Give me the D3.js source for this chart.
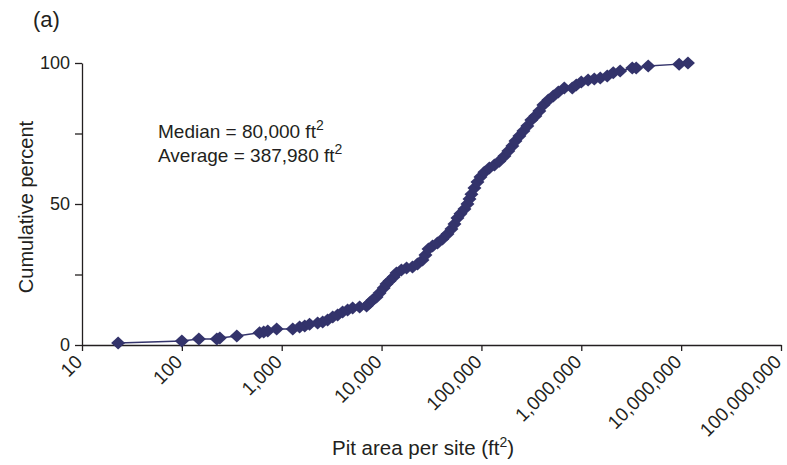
<!DOCTYPE html>
<html>
<head>
<meta charset="utf-8">
<script src="https://cdn.jsdelivr.net/npm/d3@7"></script>
<style>
  body { margin: 0; background: #fff; }
  text { font-family: Arial, "Liberation Sans", sans-serif; fill: #231f20; }
</style>
</head>
<body>
<div id="chart"></div>
<script>
// pit area per site (ft2) and cumulative percent
var areas = [23, 100, 148, 224, 240, 355, 600, 660, 725, 890,
	1290, 1510, 1700, 1900, 2290, 2570, 2880, 3240, 3630, 4070,
	4570, 5130, 6030, 7080, 7590, 8130, 8910, 9550, 10500, 11200,
	12000, 13200, 14100, 15800, 17800, 20400, 22900, 25700, 27500, 29500,
	32400, 36300, 40700, 45700, 50100, 53700, 57500, 61700, 67600, 72400,
	75900, 79400, 85100, 91200, 97700, 107000, 120000, 135000, 151000, 170000,
	186000, 204000, 219000, 240000, 263000, 288000, 316000, 347000, 380000, 417000,
	468000, 525000, 589000, 676000, 813000, 891000, 1000000, 1170000, 1350000, 1550000,
	1820000, 2090000, 2450000, 3240000, 3550000, 4680000, 9550000, 11700000];
var percents = [0.7, 1.4, 2.1, 2.1, 2.5, 3.2, 4.3, 4.6, 5.0, 5.7,
	5.7, 6.4, 6.7, 7.4, 7.8, 8.2, 8.9, 9.9, 10.6, 11.7,
	12.4, 13.1, 13.5, 13.8, 14.9, 16.0, 17.0, 18.4, 20.2, 21.6,
	22.7, 24.1, 25.5, 26.6, 27.3, 27.7, 28.7, 30.1, 31.9, 34.0,
	35.1, 36.2, 37.6, 39.4, 41.1, 42.9, 45.0, 46.5, 48.2, 50.0,
	51.8, 53.5, 55.7, 57.8, 59.6, 61.3, 62.8, 63.8, 65.2, 67.0,
	68.8, 70.6, 72.3, 74.1, 75.9, 77.7, 79.8, 81.2, 83.0, 85.1,
	86.9, 88.3, 89.7, 91.1, 91.1, 92.2, 93.3, 94.0, 94.3, 94.7,
	95.4, 96.5, 97.2, 98.2, 98.2, 98.9, 99.6, 100];
var xTicks = [10, 100, 1000, 10000, 100000, 1000000, 10000000, 100000000];
var yTicks = [0, 25, 50, 75, 100];
var yLabels = [0, 50, 100];
var notes = ['Median = 80,000 ft', 'Average = 387,980 ft'];

var width = 787, height = 465;
var margin = {left: 82, right: 6, top: 63, bottom: 120};
var color = '#33336b';

var svg = d3.select('#chart')
	.append('svg')
	.attr('width', width)
	.attr('height', height);

var x = d3.scaleLog()
	.domain([10, 100000000])
	.range([margin.left, width - margin.right]);
var y = d3.scaleLinear()
	.domain([0, 100])
	.range([height - margin.bottom, margin.top]);

var fmt = d3.format(',');

var xAxis = svg.append('g')
	.attr('transform', 'translate(0,' + (height - margin.bottom) + ')')
	.call(d3.axisBottom(x).tickValues(xTicks).tickFormat(fmt).tickSize(6).tickSizeOuter(0));
xAxis.selectAll('text')
	.attr('font-size', 19)
	.attr('dy', null)
	.attr('y', 0)
	.attr('text-anchor', 'end')
	.attr('transform', 'translate(1,18) rotate(-45)');

var yAxis = svg.append('g')
	.attr('transform', 'translate(' + margin.left + ',0)')
	.call(d3.axisLeft(y).tickValues(yTicks)
		.tickFormat(function(d) { return yLabels.indexOf(d) >= 0 ? d : ''; })
		.tickSize(7).tickSizeOuter(0));
yAxis.selectAll('text').attr('font-size', 18).attr('x', -12);

svg.selectAll('.domain, .tick line').attr('stroke', '#231f20').attr('stroke-width', 1.3);

var data = areas.map(function(d, i) { return {a: d, p: percents[i]}; });

svg.append('path')
	.datum(data)
	.attr('fill', 'none')
	.attr('stroke', color)
	.attr('stroke-width', 1.5)
	.attr('d', d3.line().x(function(d) { return x(d.a); }).y(function(d) { return y(d.p); }));

svg.selectAll('path.pt')
	.data(data)
	.enter()
	.append('path')
	.attr('class', 'pt')
	.attr('d', 'M0,-6.5L7,0L0,6.5L-7,0Z')
	.attr('fill', color)
	.attr('transform', function(d) { return 'translate(' + x(d.a) + ',' + y(d.p) + ')'; });

// labels
svg.append('text').attr('x', 33).attr('y', 27).attr('font-size', 22).text('(a)');

svg.append('text')
	.attr('transform', 'translate(33,207) rotate(-90)')
	.attr('text-anchor', 'middle')
	.attr('font-size', 20)
	.text('Cumulative percent');

var xt = svg.append('text')
	.attr('x', 332).attr('y', 455)
	.attr('font-size', 20.5)
	.text('Pit area per site (ft');
xt.append('tspan').attr('dy', -8).attr('font-size', 14).text('2');
xt.append('tspan').attr('dy', 8).text(')');

notes.forEach(function(n, i) {
	var t = svg.append('text')
		.attr('x', 158).attr('y', 138 + i * 24)
		.attr('font-size', 19)
		.text(n);
	t.append('tspan').attr('dy', -8).attr('font-size', 14).text('2');
});
</script>
</body>
</html>
